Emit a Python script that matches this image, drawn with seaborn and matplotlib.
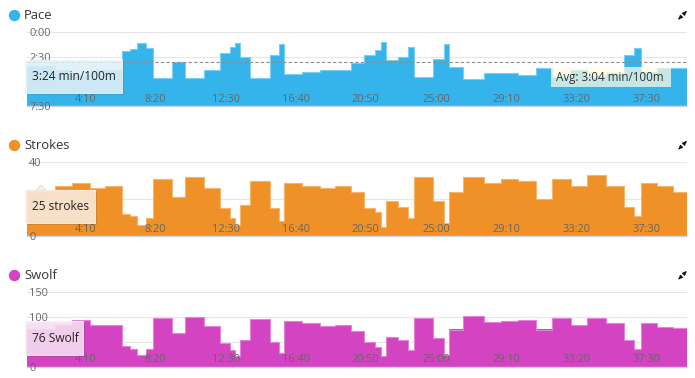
import seaborn as sns
import matplotlib.pyplot as plt
from matplotlib.patches import Rectangle, Polygon, FancyArrowPatch
from matplotlib.lines import Line2D
from matplotlib.ticker import FuncFormatter

# debut de chaque longueur (secondes) + fin de l'activite
lap_start = [42, 143, 202, 265, 321, 380, 410, 434, 467, 491, 559, 604, 674, 731,
             764, 785, 802, 838, 907, 941, 959, 1022, 1085, 1141, 1198, 1244, 1281,
             1305, 1322, 1363, 1400, 1422, 1489, 1530, 1548, 1598, 1670, 1732, 1794,
             1858, 1913, 1981, 2040, 2106, 2169, 2205, 2231, 2288, 2344]
t_end = 2395

# allure en secondes / 100m
pace = [204, 232, 260, 232, 232, 117, 102, 65, 98, 276, 184, 280, 229, 129, 88, 65,
        153, 276, 137, 72, 256, 245, 231, 233, 190, 139, 108, 61, 168, 153, 92, 272,
        164, 72, 209, 286, 249, 247, 260, 221, 272, 232, 264, 248, 139, 98, 240, 216, 219]
strokes = [25, 27, 29, 26, 27, 12, 11, 6, 10, 31, 21, 32, 26, 15, 10, 6, 17, 30, 15, 8,
           29, 27, 26, 27, 24, 15, 13, 5, 19, 16, 10, 32, 19, 7, 24, 32, 29, 31, 30, 20,
           31, 27, 33, 27, 16, 11, 29, 27, 24]
swolf = [76, 85, 94, 84, 85, 42, 36, 23, 35, 99, 67, 101, 83, 48, 34, 22, 54, 97, 49, 28,
         93, 89, 83, 84, 72, 50, 40, 21, 60, 54, 34, 99, 58, 23, 75, 102, 91, 93, 94, 75,
         99, 85, 99, 89, 54, 36, 89, 81, 79]
avg_pace = 184

x_ticks = [250, 500, 750, 1000, 1250, 1500, 1750, 2000, 2250]
pace_ticks = [0, 150, 300, 450]
pace_labels = ["0:00", "2:30", "5:00", "7:30"]
strokes_ticks = [0, 20, 40]
swolf_ticks = [0, 50, 100, 150]

W, H = 695, 378


def fx(x):
    return x / W


def fy(y):
    return 1 - y / H


sns.set_theme(style="white")
plt.rcParams['font.family'] = ['Open Sans', 'DejaVu Sans']

fig = plt.figure(figsize=(W / 100, H / 100), dpi=100)


def panel(top, bottom, title, color, line_color, vals, base, ylim, yticks, ylabels):
    ax = fig.add_axes([fx(27), fy(bottom), 660 / W, (bottom - top) / H])
    x = lap_start + [t_end]
    y = vals + [vals[-1]]
    # lignes de grille sous la surface
    for v in yticks:
        if v != base:
            ax.axhline(v, color='#e6e6e6', lw=0.8, zorder=1)
    ax.fill_between(x, base, y, step='post', color=color, lw=0, zorder=2)
    sns.lineplot(x=x, y=y, drawstyle='steps-post', color=line_color, lw=0.8,
                 estimator=None, ax=ax, zorder=3)
    ax.set_xlim(lap_start[0], t_end)
    ax.set_ylim(*ylim)
    ax.set_xlabel("")
    ax.set_ylabel("")
    ax.set_xticks(x_ticks)
    ax.xaxis.set_major_formatter(FuncFormatter(lambda v, p: f"{int(v) // 60}:{int(v) % 60:02d}"))
    ax.set_yticks(yticks)
    ax.set_yticklabels(ylabels)
    ax.grid(False)
    for s in ['top', 'left', 'right']:
        ax.spines[s].set_visible(False)
    ax.spines['bottom'].set_color('#ccd6eb')
    ax.spines['bottom'].set_linewidth(1)
    ax.spines['bottom'].set_zorder(4)
    ax.xaxis.set_zorder(5)
    ax.yaxis.set_zorder(5)
    ax.tick_params(axis='x', length=0, pad=-5, labelsize=7.9, labelcolor='#666666')
    ax.tick_params(axis='y', length=0, pad=-1.5, labelsize=7.9, labelcolor='#666666')
    for t in ax.get_xticklabels():
        t.set_verticalalignment('center')
    for t in ax.get_yticklabels():
        t.set_horizontalalignment('left')

    # titre avec pastille
    ty = top - 17
    fig.add_artist(Line2D([fx(14)], [fy(ty)], marker='o', ms=7.2, color=color,
                          transform=fig.transFigure))
    fig.text(fx(24), fy(ty), title, fontsize=9.4, va='center', color='#333333')
    # icone agrandir
    fig.add_artist(FancyArrowPatch((fx(684), fy(ty - 1.5)), (fx(688.5), fy(ty - 6)),
                                   transform=fig.transFigure, arrowstyle='-|>',
                                   mutation_scale=5, lw=0.9, color='#111111'))
    fig.add_artist(FancyArrowPatch((fx(681), fy(ty + 1.5)), (fx(676.5), fy(ty + 6)),
                                   transform=fig.transFigure, arrowstyle='-|>',
                                   mutation_scale=5, lw=0.9, color='#111111'))
    return ax


def tooltip(x0, y0, x1, y1, fc, text, arrow_x=None):
    fig.add_artist(Rectangle((fx(x0 + 1.5), fy(y1 + 1.5)), (x1 - x0) / W, (y1 - y0) / H,
                             transform=fig.transFigure, fc='black', alpha=0.12, lw=0))
    fig.add_artist(Rectangle((fx(x0), fy(y1)), (x1 - x0) / W, (y1 - y0) / H,
                             transform=fig.transFigure, fc=fc, alpha=0.88,
                             ec='#f4f4f4', lw=0.8))
    if arrow_x is not None:
        fig.add_artist(Polygon([(fx(arrow_x - 5), fy(y0)), (fx(arrow_x), fy(y0 - 5)),
                                (fx(arrow_x + 5), fy(y0))], closed=True,
                               transform=fig.transFigure, fc=fc, ec='#e0e0e0', lw=0.6))
    fig.text(fx(x0 + 7), fy((y0 + y1) / 2), text, fontsize=8.6, va='center', color='#222222')


ax1 = panel(32.3, 106, "Pace", '#35b4ec', '#7ccdf2', pace, 450, (450, 0),
            pace_ticks, pace_labels)
ax1.axhline(avg_pace, color='#8c8c8c', lw=0.8, ls=(0, (3, 2)), zorder=4)

ax2 = panel(162.3, 236, "Strokes", '#ef9127', '#f5b56c', strokes, 0, (0, 40),
            strokes_ticks, [str(v) for v in strokes_ticks])
ax3 = panel(292.3, 366.7, "Swolf", '#d443c1', '#e484d8', swolf, 0, (0, 150),
            swolf_ticks, [str(v) for v in swolf_ticks])

# etiquette moyenne
fig.add_artist(Rectangle((fx(551), fy(87)), 120 / W, 20 / H, transform=fig.transFigure,
                         fc='#fffbe3', alpha=0.72, lw=0))
fig.text(fx(556), fy(77), f"Avg: {avg_pace // 60}:{avg_pace % 60:02d} min/100m",
         fontsize=8.4, va='center', color='#333333')

tooltip(25, 60, 122, 93, '#e3f3fc', f"{pace[0] // 60}:{pace[0] % 60:02d} min/100m")
tooltip(25, 190, 95, 223, '#fdeee0', f"{strokes[0]} strokes", arrow_x=41)
tooltip(25, 321, 83, 355, '#f9e2f5', f"{swolf[0]} Swolf")

fig.savefig('out.png', dpi=100)
